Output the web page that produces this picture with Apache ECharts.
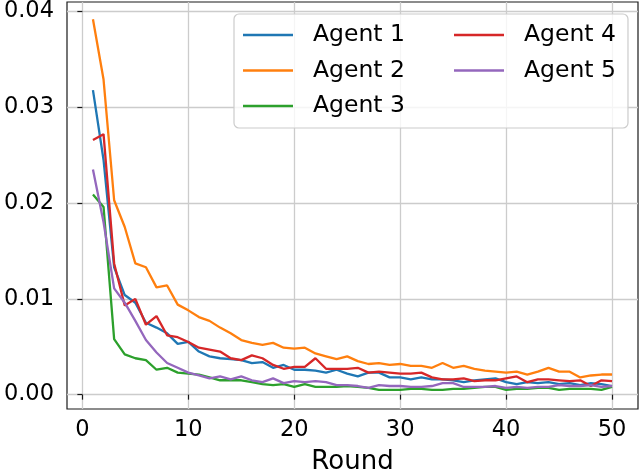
<!DOCTYPE html>
<html>
<head>
<meta charset="utf-8">
<script src="https://cdn.jsdelivr.net/npm/echarts@6/dist/echarts.min.js"></script>
<style>html,body{margin:0;padding:0;background:#fff;}#c{width:640px;height:473px;}</style>
</head>
<body>
<div id="c"></div>
<script>
const rounds = Array.from({length: 50}, (_, i) => i + 1);
const xTicks = [0, 10, 20, 30, 40, 50];
const yTicks = [0, 0.01, 0.02, 0.03, 0.04];
const seriesNames = ['Agent 1', 'Agent 2', 'Agent 3', 'Agent 4', 'Agent 5'];
const agent1 = [0.0318,0.0245,0.0133,0.0104,0.0096,0.0075,0.0070,0.0064,0.0053,0.0055,
  0.0045,0.0040,0.0038,0.0037,0.0036,0.0033,0.0034,0.0028,0.0031,0.0026,
  0.0026,0.0025,0.0023,0.0026,0.0022,0.0019,0.0023,0.0023,0.0018,0.0018,
  0.0016,0.0018,0.0016,0.0016,0.0015,0.0013,0.0015,0.0016,0.0017,0.0013,
  0.0011,0.0013,0.0012,0.0013,0.0011,0.0012,0.0010,0.0012,0.0011,0.0009];
const agent2 = [0.0392,0.0329,0.0203,0.0175,0.0137,0.0133,0.0112,0.0114,0.0094,0.0088,
  0.0081,0.0077,0.0070,0.0064,0.0057,0.0054,0.0052,0.0054,0.0049,0.0048,
  0.0049,0.0043,0.0040,0.0037,0.0040,0.0035,0.0032,0.0033,0.0031,0.0032,
  0.0030,0.0030,0.0028,0.0033,0.0028,0.0030,0.0027,0.0025,0.0024,0.0023,
  0.0024,0.0021,0.0024,0.0028,0.0024,0.0024,0.0018,0.0020,0.0021,0.0021];
const agent3 = [0.0209,0.0196,0.0058,0.0042,0.0038,0.0036,0.0026,0.0028,0.0023,0.0022,
  0.0021,0.0018,0.0015,0.0015,0.0015,0.0013,0.0011,0.0010,0.0011,0.0008,
  0.0011,0.0008,0.0008,0.0008,0.0009,0.0008,0.0007,0.0005,0.0005,0.0005,
  0.0006,0.0006,0.0005,0.0005,0.0006,0.0006,0.0007,0.0008,0.0008,0.0005,
  0.0006,0.0006,0.0007,0.0007,0.0005,0.0006,0.0006,0.0006,0.0005,0.0008];
const agent4 = [0.0266,0.0272,0.0137,0.0093,0.0100,0.0073,0.0082,0.0062,0.0060,0.0055,
  0.0049,0.0047,0.0045,0.0038,0.0036,0.0041,0.0038,0.0031,0.0027,0.0029,
  0.0029,0.0038,0.0027,0.0027,0.0027,0.0028,0.0023,0.0024,0.0023,0.0022,
  0.0022,0.0023,0.0018,0.0016,0.0016,0.0017,0.0014,0.0015,0.0015,0.0017,
  0.0019,0.0013,0.0016,0.0016,0.0015,0.0014,0.0015,0.0009,0.0015,0.0014];
const agent5 = [0.0235,0.0180,0.0111,0.0096,0.0077,0.0057,0.0044,0.0033,0.0028,0.0023,
  0.0020,0.0017,0.0019,0.0016,0.0019,0.0015,0.0013,0.0017,0.0012,0.0014,
  0.0013,0.0014,0.0013,0.0010,0.0010,0.0009,0.0007,0.0010,0.0009,0.0009,
  0.0008,0.0008,0.0009,0.0012,0.0012,0.0008,0.0008,0.0008,0.0009,0.0007,
  0.0008,0.0007,0.0008,0.0008,0.0010,0.0009,0.0009,0.0010,0.0008,0.0009];
const allValues = [agent1, agent2, agent3, agent4, agent5];
const colors = ['#1f77b4', '#ff7f0e', '#2ca02c', '#d62728', '#9467bd'];

const FONT = 'DejaVu Sans';
const chart = echarts.init(document.getElementById('c'), null, {renderer: 'canvas'});

const legendText = {fontFamily: FONT, fontSize: 23.5, color: '#000', lineHeight: 26, padding: [0, 0, 0, 15]};
const option = {
  animation: false,
  color: colors,
  grid: {left: 67, right: 2, top: 2, bottom: 64, outerBoundsMode: 'none', containLabel: false,
    show: true, borderColor: '#1a1a1a', borderWidth: 1.2, backgroundColor: 'transparent'},
  xAxis: {
    type: 'value', min: -1.45, max: 52.45,
    name: 'Round', nameLocation: 'middle', nameGap: 40,
    nameTextStyle: {fontFamily: FONT, fontSize: 26, color: '#000'},
    axisLine: {show: false},
    axisTick: {show: true, inside: false, length: 5, customValues: xTicks, lineStyle: {color: '#1a1a1a', width: 1.2}},
    axisLabel: {customValues: xTicks, fontFamily: FONT, fontSize: 22.5, color: '#000', margin: 10},
    splitLine: {show: true, lineStyle: {color: '#cccccc', width: 1.3}}
  },
  yAxis: {
    type: 'value', min: -0.0015, max: 0.041,
    axisLine: {show: false},
    axisTick: {show: true, inside: false, length: 5, customValues: yTicks, lineStyle: {color: '#1a1a1a', width: 1.2}},
    axisLabel: {customValues: yTicks, fontFamily: FONT, fontSize: 22.5, color: '#000', margin: 13,
      formatter: v => v.toFixed(2)},
    splitLine: {show: true, lineStyle: {color: '#cccccc', width: 1.3}}
  },
  legend: [
    {
      data: seriesNames.slice(0, 3), orient: 'vertical', left: 234, top: 14,
      icon: 'rect', itemWidth: 50, itemHeight: 2.5, itemGap: 9.5,
      padding: [8, 223, 9, 9],
      backgroundColor: 'rgba(255,255,255,0.8)', borderColor: '#cccccc', borderWidth: 1.2, borderRadius: 5,
      textStyle: legendText
    },
    {
      data: seriesNames.slice(3), orient: 'vertical', left: 454, top: 22,
      icon: 'rect', itemWidth: 50, itemHeight: 2.5, itemGap: 9.5, padding: 0,
      textStyle: legendText
    }
  ],
  series: allValues.map((vals, i) => ({
    name: seriesNames[i], type: 'line', showSymbol: false, symbol: 'none',
    data: rounds.map((r, j) => [r, vals[j]]),
    lineStyle: {width: 2.3, color: colors[i]}, itemStyle: {color: colors[i]},
    z: 2 + i
  }))
};
chart.setOption(option);
</script>
</body>
</html>
